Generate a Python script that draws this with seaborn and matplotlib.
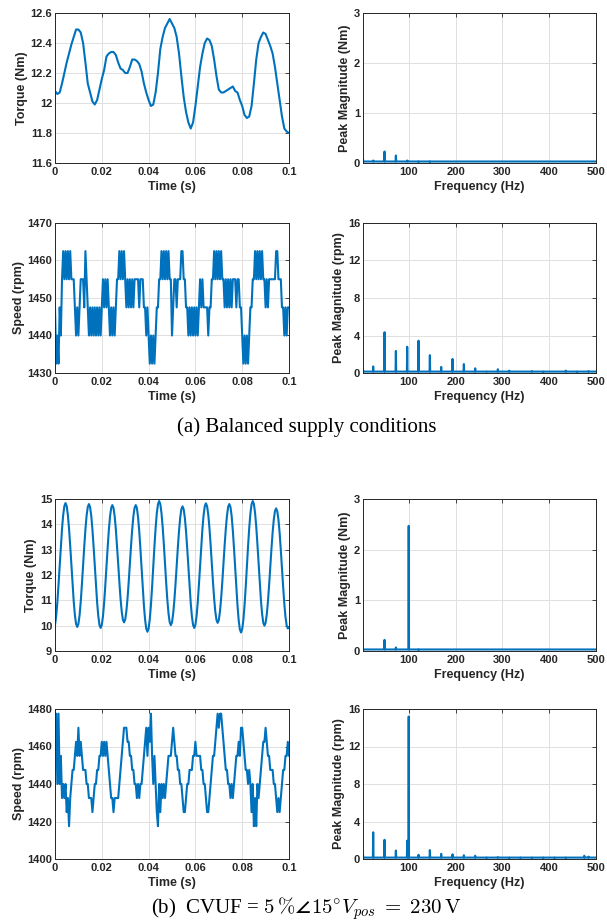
import numpy as np
import pandas as pd
import matplotlib
matplotlib.use("Agg")
import matplotlib.pyplot as plt
import seaborn as sns

# ---- data ----
# torque, balanced supply, one sample per ms (0 .. 0.1 s)
torque_a = [12.08, 12.06, 12.07, 12.13, 12.20, 12.27, 12.33, 12.39, 12.44, 12.49,
            12.49, 12.47, 12.40, 12.27, 12.13, 12.07, 12.01, 11.99, 12.02, 12.09,
            12.16, 12.22, 12.31, 12.33, 12.34, 12.34, 12.32, 12.27, 12.23, 12.22,
            12.20, 12.20, 12.24, 12.29, 12.29, 12.28, 12.26, 12.21, 12.13, 12.07,
            12.02, 11.98, 11.99, 12.07, 12.20, 12.36, 12.44, 12.50, 12.53, 12.56,
            12.53, 12.50, 12.44, 12.33, 12.18, 12.04, 11.94, 11.87, 11.83, 11.87,
            11.98, 12.11, 12.24, 12.33, 12.40, 12.43, 12.42, 12.38, 12.29, 12.18,
            12.09, 12.07, 12.07, 12.08, 12.09, 12.10, 12.11, 12.08, 12.07, 12.02,
            11.98, 11.92, 11.90, 11.91, 11.98, 12.13, 12.29, 12.40, 12.44, 12.47,
            12.46, 12.42, 12.38, 12.33, 12.24, 12.13, 12.02, 11.91, 11.83, 11.81,
            11.80]

# speed, balanced supply, one sample per 0.5 ms
speed_a = [1447.5, 1432.5, 1440, 1432.5, 1447.5, 1440, 1455, 1462.5, 1455, 1462.5,
           1455, 1462.5, 1455, 1462.5, 1455, 1455, 1455, 1447.5, 1440, 1447.5,
           1440, 1447.5, 1455, 1455, 1455, 1447.5, 1462.5, 1455, 1447.5, 1440,
           1447.5, 1440, 1447.5, 1440, 1447.5, 1440, 1447.5, 1440, 1447.5, 1440,
           1447.5, 1455, 1447.5, 1455, 1447.5, 1455, 1447.5, 1440, 1447.5, 1440,
           1447.5, 1440, 1447.5, 1455, 1455, 1462.5, 1455, 1462.5, 1455, 1462.5,
           1455, 1447.5, 1455, 1447.5, 1455, 1447.5, 1455, 1447.5, 1455, 1455,
           1455, 1455, 1447.5, 1455, 1455, 1455, 1447.5, 1447.5, 1440, 1447.5,
           1440, 1432.5, 1440, 1432.5, 1440, 1432.5, 1440, 1447.5, 1447.5, 1455,
           1455, 1462.5, 1455, 1462.5, 1455, 1462.5, 1455, 1462.5, 1455, 1455,
           1440, 1447.5, 1455, 1455, 1447.5, 1455, 1455, 1455, 1462.5, 1462.5,
           1455, 1455, 1447.5, 1447.5, 1440, 1447.5, 1440, 1447.5, 1440, 1447.5,
           1440, 1447.5, 1440, 1447.5, 1455, 1447.5, 1455, 1447.5, 1447.5, 1447.5,
           1447.5, 1440, 1447.5, 1447.5, 1455, 1455, 1462.5, 1455, 1462.5, 1455,
           1462.5, 1455, 1462.5, 1455, 1455, 1447.5, 1455, 1447.5, 1455, 1447.5,
           1455, 1447.5, 1455, 1455, 1455, 1447.5, 1455, 1455, 1447.5, 1447.5,
           1440, 1432.5, 1440, 1432.5, 1440, 1432.5, 1440, 1447.5, 1447.5, 1455,
           1455, 1462.5, 1455, 1462.5, 1455, 1462.5, 1455, 1462.5, 1455, 1455,
           1447.5, 1455, 1447.5, 1455, 1455, 1455, 1455, 1455, 1455, 1462.5,
           1462.5, 1455, 1455, 1455, 1447.5, 1447.5, 1440, 1447.5, 1440, 1447.5,
           1447.5]

# torque, CVUF 5 %, one sample per 0.5 ms
torque_b = [10.02, 10.37, 10.92, 11.61, 12.37, 13.13, 13.82, 14.37, 14.72, 14.84,
            14.72, 14.37, 13.83, 13.15, 12.40, 11.64, 10.96, 10.42, 10.07, 9.95,
            10.07, 10.41, 10.95, 11.63, 12.38, 13.12, 13.80, 14.34, 14.68, 14.80,
            14.68, 14.33, 13.79, 13.11, 12.36, 11.60, 10.92, 10.38, 10.03, 9.91,
            10.03, 10.37, 10.91, 11.59, 12.34, 13.08, 13.76, 14.30, 14.64, 14.76,
            14.65, 14.32, 13.81, 13.16, 12.45, 11.73, 11.08, 10.57, 10.24, 10.13,
            10.24, 10.57, 11.08, 11.73, 12.45, 13.16, 13.81, 14.32, 14.65, 14.76,
            14.64, 14.28, 13.73, 13.03, 12.26, 11.49, 10.79, 10.24, 9.88, 9.76,
            9.89, 10.25, 10.82, 11.54, 12.34, 13.14, 13.86, 14.43, 14.79, 14.92,
            14.80, 14.45, 13.91, 13.23, 12.47, 11.71, 11.03, 10.49, 10.14, 10.02,
            10.13, 10.47, 10.99, 11.64, 12.37, 13.09, 13.74, 14.26, 14.60, 14.71,
            14.59, 14.25, 13.72, 13.05, 12.31, 11.57, 10.90, 10.37, 10.03, 9.91,
            10.03, 10.38, 10.92, 11.61, 12.37, 13.13, 13.82, 14.36, 14.71, 14.83,
            14.71, 14.38, 13.86, 13.20, 12.47, 11.74, 11.08, 10.56, 10.23, 10.11,
            10.22, 10.56, 11.08, 11.73, 12.46, 13.18, 13.83, 14.35, 14.69, 14.80,
            14.68, 14.32, 13.75, 13.05, 12.27, 11.48, 10.78, 10.21, 9.85, 9.73,
            9.86, 10.23, 10.80, 11.52, 12.33, 13.13, 13.85, 14.42, 14.79, 14.92,
            14.80, 14.45, 13.91, 13.22, 12.46, 11.70, 11.01, 10.47, 10.12, 10.00,
            10.11, 10.44, 10.95, 11.60, 12.32, 13.03, 13.68, 14.19, 14.52, 14.63,
            14.51, 14.18, 13.65, 12.99, 12.26, 11.53, 10.87, 10.34, 10.01, 9.89,
            9.95]

# speed, CVUF 5 %, one sample per 0.5 ms
speed_b = [1470, 1477.5, 1440, 1477.5, 1440, 1455, 1432.5, 1440, 1432.5, 1440,
           1425, 1432.5, 1417.5, 1432.5, 1440, 1447.5, 1447.5, 1455, 1462.5, 1455,
           1470, 1455, 1462.5, 1455, 1447.5, 1447.5, 1447.5, 1440, 1440, 1432.5,
           1432.5, 1432.5, 1425, 1432.5, 1440, 1440, 1447.5, 1447.5, 1455, 1455,
           1462.5, 1455, 1462.5, 1455, 1462.5, 1455, 1447.5, 1440, 1432.5, 1432.5,
           1425, 1432.5, 1432.5, 1432.5, 1432.5, 1440, 1447.5, 1455, 1462.5, 1470,
           1470, 1470, 1462.5, 1462.5, 1455, 1455, 1447.5, 1447.5, 1440, 1440,
           1432.5, 1440, 1432.5, 1440, 1440, 1447.5, 1455, 1462.5, 1470, 1455,
           1470, 1462.5, 1477.5, 1455, 1440, 1455, 1440, 1425, 1417.5, 1440,
           1425, 1440, 1432.5, 1440, 1432.5, 1440, 1447.5, 1455, 1455, 1455,
           1462.5, 1470, 1462.5, 1455, 1455, 1447.5, 1447.5, 1440, 1440, 1432.5,
           1425, 1425, 1432.5, 1440, 1440, 1447.5, 1447.5, 1447.5, 1455, 1455,
           1462.5, 1455, 1455, 1455, 1455, 1447.5, 1447.5, 1440, 1440, 1432.5,
           1425, 1425, 1432.5, 1440, 1447.5, 1455, 1455, 1462.5, 1470, 1477.5,
           1470, 1477.5, 1477.5, 1470, 1462.5, 1455, 1447.5, 1447.5, 1440, 1440,
           1432.5, 1440, 1432.5, 1440, 1447.5, 1455, 1455, 1462.5, 1455, 1470,
           1470, 1462.5, 1455, 1447.5, 1447.5, 1440, 1447.5, 1440, 1425, 1440,
           1417.5, 1432.5, 1417.5, 1440, 1432.5, 1440, 1447.5, 1455, 1462.5, 1462.5,
           1470, 1462.5, 1455, 1455, 1447.5, 1447.5, 1447.5, 1440, 1440, 1432.5,
           1425, 1432.5, 1425, 1432.5, 1440, 1447.5, 1447.5, 1455, 1455, 1462.5,
           1455]

# spectrum peaks (frequency in Hz, peak magnitude)
torque_freq_a = [2.4, 24.2, 48.4, 72.6, 96.8, 121.0, 145.2]
torque_mag_a = [0.08, 0.05, 0.23, 0.15, 0.05, 0.02, 0.02]

speed_freq_a = [2.4, 24.2, 48.4, 72.6, 96.8, 121.0, 145.2, 169.4, 193.6, 217.8, 242.0,
                266.2, 290.4, 314.6, 338.8, 363.0, 387.2, 411.4, 435.6, 459.8, 484.0]
speed_mag_a = [0.4, 0.7, 4.35, 2.35, 2.8, 3.45, 1.9, 0.65, 1.5, 0.95, 0.5,
               0.12, 0.4, 0.25, 0.15, 0.2, 0.1, 0.15, 0.25, 0.1, 0.2]

torque_freq_b = [2.4, 24.2, 48.4, 72.6, 100.0, 121.0]
torque_mag_b = [0.04, 0.03, 0.22, 0.07, 2.47, 0.02]

speed_freq_b = [2.4, 24.2, 48.4, 72.6, 96.8, 100.0, 121.0, 145.2, 169.4, 193.6, 217.8, 242.0,
                266.2, 290.4, 314.6, 338.8, 363.0, 387.2, 411.4, 435.6, 450.0, 475.0, 484.0]
speed_mag_b = [0.5, 2.85, 2.05, 0.9, 1.95, 15.2, 0.45, 0.95, 0.55, 0.5, 0.4, 0.35,
               0.1, 0.2, 0.1, 0.1, 0.1, 0.1, 0.1, 0.1, 0.15, 0.35, 0.25]

time_ticks = [0, 0.02, 0.04, 0.06, 0.08, 0.1]
time_labels = ["0", "0.02", "0.04", "0.06", "0.08", "0.1"]
freq_ticks = [100, 200, 300, 400, 500]

BLUE = "#0072BD"
DARK = "#262626"

sns.set_theme(style="whitegrid")
plt.rcParams["font.family"] = ["Liberation Sans", "DejaVu Sans"]
plt.rcParams["font.weight"] = "bold"
plt.rcParams["mathtext.fontset"] = "cm"

t_ms = np.arange(len(torque_a)) * 0.001
t_half = np.arange(len(torque_b)) * 0.0005


def spike_frame(freqs, mags, floor, half=0.7):
    xs, ys = [], []
    for f, m in zip(freqs, mags):
        xs += [f - half, f, f + half]
        ys += [floor, m, floor]
    xs.append(500)
    ys.append(floor)
    return pd.DataFrame({"f": xs, "mag": ys})


def style_axes(ax, xlim, ylim, xticks, xlabels, yticks, ylabels, xlabel, ylabel):
    ax.set_xlim(*xlim)
    ax.set_ylim(*ylim)
    ax.set_xticks(xticks)
    ax.set_xticklabels(xlabels)
    ax.set_yticks(yticks)
    ax.set_yticklabels(ylabels)
    ax.set_xlabel(xlabel, fontsize=9, fontweight="bold", color=DARK, labelpad=2.5)
    ax.set_ylabel(ylabel, fontsize=9, fontweight="bold", color=DARK, labelpad=2)
    ax.tick_params(direction="in", length=3, width=0.6, colors=DARK, labelsize=8,
                   top=True, right=True)
    ax.tick_params(axis="y", pad=2)
    ax.tick_params(axis="x", pad=3)
    ax.grid(True, color="#e0e0e0", linewidth=0.7)
    for s in ax.spines.values():
        s.set_color(DARK)
        s.set_linewidth(0.7)
    ax.set_facecolor("white")


fig = plt.figure(figsize=(6.07, 9.23), dpi=100)
W, H = 607, 923


def add_ax(left, top, right, bottom):
    return fig.add_axes([left / W, 1 - bottom / H, (right - left) / W, (bottom - top) / H])


# (a) torque
ax = add_ax(55, 13, 289, 163)
sns.lineplot(x=t_ms, y=torque_a, ax=ax, color=BLUE, linewidth=1.5, estimator=None, sort=False)
style_axes(ax, (0, 0.1), (11.6, 12.6), time_ticks, time_labels,
           [11.6, 11.8, 12.0, 12.2, 12.4, 12.6], ["11.6", "11.8", "12", "12.2", "12.4", "12.6"],
           "Time (s)", "Torque (Nm)")

# (a) torque spectrum
ax = add_ax(363, 13, 596, 163)
df = spike_frame(torque_freq_a, torque_mag_a, 0.03)
sns.lineplot(data=df, x="f", y="mag", ax=ax, color=BLUE, linewidth=1.5, estimator=None, sort=False)
style_axes(ax, (2.4, 500), (0, 3), freq_ticks, [str(v) for v in freq_ticks],
           [0, 1, 2, 3], ["0", "1", "2", "3"], "Frequency (Hz)", "Peak Magnitude (Nm)")

# (a) speed
ax = add_ax(55, 223, 289, 373)
sns.lineplot(x=t_half, y=speed_a, ax=ax, color=BLUE, linewidth=1.5, estimator=None, sort=False)
style_axes(ax, (0, 0.1), (1430, 1470), time_ticks, time_labels,
           [1430, 1440, 1450, 1460, 1470], ["1430", "1440", "1450", "1460", "1470"],
           "Time (s)", "Speed (rpm)")

# (a) speed spectrum
ax = add_ax(363, 223, 596, 373)
df = spike_frame(speed_freq_a, speed_mag_a, 0.15)
sns.lineplot(data=df, x="f", y="mag", ax=ax, color=BLUE, linewidth=1.5, estimator=None, sort=False)
style_axes(ax, (2.4, 500), (0, 16), freq_ticks, [str(v) for v in freq_ticks],
           [0, 4, 8, 12, 16], ["0", "4", "8", "12", "16"], "Frequency (Hz)", "Peak Magnitude (rpm)")

# (b) torque
ax = add_ax(55, 499, 289, 651)
sns.lineplot(x=t_half, y=torque_b, ax=ax, color=BLUE, linewidth=1.5, estimator=None, sort=False)
style_axes(ax, (0, 0.1), (9, 15), time_ticks, time_labels,
           list(range(9, 16)), [str(v) for v in range(9, 16)], "Time (s)", "Torque (Nm)")

# (b) torque spectrum
ax = add_ax(363, 499, 596, 651)
df = spike_frame(torque_freq_b, torque_mag_b, 0.03)
sns.lineplot(data=df, x="f", y="mag", ax=ax, color=BLUE, linewidth=1.5, estimator=None, sort=False)
style_axes(ax, (2.4, 500), (0, 3), freq_ticks, [str(v) for v in freq_ticks],
           [0, 1, 2, 3], ["0", "1", "2", "3"], "Frequency (Hz)", "Peak Magnitude (Nm)")

# (b) speed
ax = add_ax(55, 709, 289, 859)
sns.lineplot(x=t_half, y=speed_b, ax=ax, color=BLUE, linewidth=1.5, estimator=None, sort=False)
style_axes(ax, (0, 0.1), (1400, 1480), time_ticks, time_labels,
           [1400, 1420, 1440, 1460, 1480], ["1400", "1420", "1440", "1460", "1480"],
           "Time (s)", "Speed (rpm)")

# (b) speed spectrum
ax = add_ax(363, 709, 596, 859)
df = spike_frame(speed_freq_b, speed_mag_b, 0.15)
sns.lineplot(data=df, x="f", y="mag", ax=ax, color=BLUE, linewidth=1.5, estimator=None, sort=False)
style_axes(ax, (2.4, 500), (0, 16), freq_ticks, [str(v) for v in freq_ticks],
           [0, 4, 8, 12, 16], ["0", "4", "8", "12", "16"], "Frequency (Hz)", "Peak Magnitude (rpm)")

# captions
fig.text(307 / W, 1 - 427 / H, "(a) Balanced supply conditions", ha="center", va="center",
         fontsize=15, fontweight="normal", family="Liberation Serif", color="black")
fig.text(306 / W, 1 - 909 / H,
         r"(b)  CVUF = $5\,\%\angle 15^{\circ}V_{pos}\;=\;230\,\mathrm{V}$",
         ha="center", va="center", fontsize=15, fontweight="normal",
         family="Liberation Serif", color="black")

fig.savefig("out.png", dpi=100)
